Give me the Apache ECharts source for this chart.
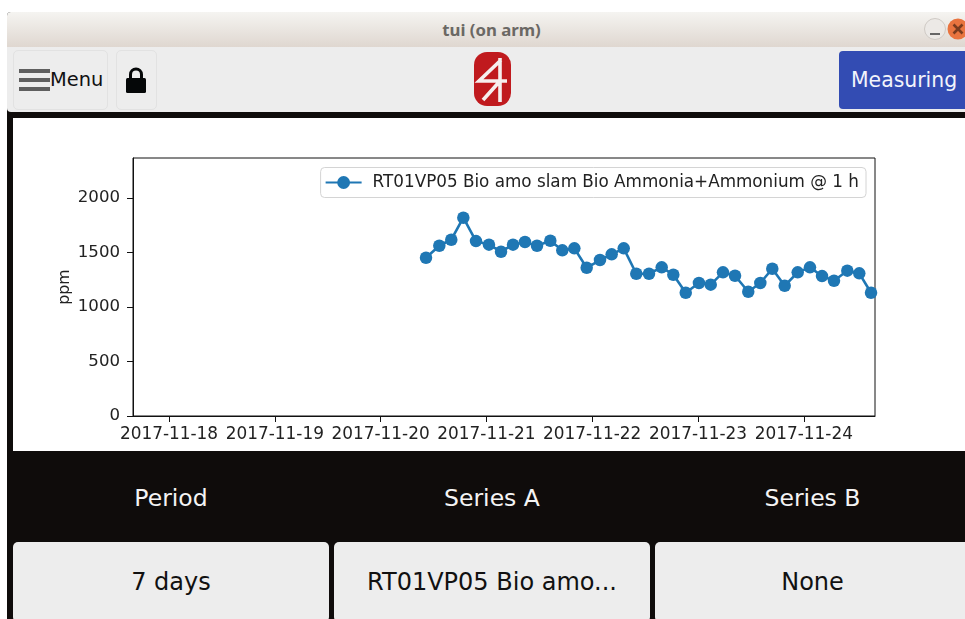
<!DOCTYPE html>
<html>
<head>
<meta charset="utf-8">
<title>tui (on arm)</title>
<script src="https://cdn.jsdelivr.net/npm/echarts@6/dist/echarts.min.js"></script>
<style>
  html, body { margin: 0; padding: 0; background: #fff; overflow: hidden; }
  body { width: 965px; height: 619px; position: relative; font-family: "DejaVu Sans", sans-serif; }
  .abs { position: absolute; box-sizing: border-box; }
  .window { left: 7px; top: 12px; width: 958px; height: 607px; background: #0f0c0b; border-radius: 4px 0 0 0; overflow: hidden; }
  .titlebar { left: 7px; top: 12px; width: 958px; height: 35px; border-radius: 4px 0 0 0;
    background: linear-gradient(#f5f4f1, #dfd7d0); text-align: center; padding-left: 11px;
    font: bold 16.8px/35px "Noto Sans", sans-serif; color: #6b6864; }
  .toolbar { left: 7px; top: 47px; width: 958px; height: 65px; background: #ededed; border-radius: 0 0 0 4px; }
  .btn { background: #ededed; border: 1px solid #e2e2e2; border-radius: 5px; }
  .menu { left: 13px; top: 50px; width: 95px; height: 60px; }
  .lock { left: 116px; top: 50px; width: 41px; height: 60px; }
  .bar { left: 19px; width: 31px; height: 4px; background: #5f5f5f; }
  .menutext { left: 50px; top: 67px; font-size: 19.4px; line-height: 26px; color: #111; }
  .measuring { left: 839px; top: 51px; width: 126px; height: 58px; background: #334cb3; border-radius: 4px 0 0 4px;
    color: #f2f4fb; font-size: 20.4px; line-height: 58px; padding-left: 12px; }
  #chart { left: 13px; top: 118px; width: 952px; height: 333px; background: #fff; }
  .head { top: 483px; height: 30px; color: #f4f4f4; font-size: 23.5px; line-height: 30px; text-align: center; }
  .pick { top: 542px; height: 80px; background: #ededed; border-radius: 5px; color: #111;
    font-size: 24px; line-height: 80px; text-align: center; }
</style>
</head>
<body>
<div class="abs window"></div>
<div class="abs titlebar">tui (on arm)</div>
<svg class="abs" style="left:922px;top:17px" width="43" height="24">
  <circle cx="13" cy="12" r="10.5" fill="#ece9e6" stroke="#cfcac5"/>
  <rect x="8" y="16" width="10" height="2" fill="#666"/>
  <circle cx="36" cy="12" r="10.5" fill="#e9743f"/>
  <path d="M31.5 7.5 L40.5 16.5 M40.5 7.5 L31.5 16.5" stroke="#7a3b1e" stroke-width="2.6"/>
</svg>
<div class="abs toolbar"></div>
<div class="abs btn menu"></div>
<div class="abs bar" style="top:69px"></div>
<div class="abs bar" style="top:78px"></div>
<div class="abs bar" style="top:87px"></div>
<div class="abs menutext">Menu</div>
<div class="abs btn lock"></div>
<svg class="abs" style="left:125px;top:66px" width="22" height="28">
  <path d="M5.5 13 V8.5 a5.5 5.5 0 0 1 11 0 V13" fill="none" stroke="#050708" stroke-width="3"/>
  <rect x="1" y="12" width="20" height="15" rx="1.5" fill="#050708"/>
</svg>
<svg class="abs" style="left:474px;top:52px" width="38" height="54">
  <rect x="0" y="0" width="37" height="54" rx="13" fill="#c01a1e"/>
  <path d="M26 6 V50 M27 8 L5 29 H33 M26 29 L9 48" fill="none" stroke="#f6eeee" stroke-width="3.6"/>
</svg>
<div class="abs measuring">Measuring</div>
<div class="abs" id="chart"></div>
<div class="abs head" style="left:13px;width:316px">Period</div>
<div class="abs head" style="left:334px;width:316px">Series A</div>
<div class="abs head" style="left:655px;width:315px">Series B</div>
<div class="abs pick" style="left:13px;width:316px">7 days</div>
<div class="abs pick" style="left:334px;width:316px">RT01VP05 Bio amo...</div>
<div class="abs pick" style="left:655px;width:315px">None</div>

<script>
// values
const seriesName = 'RT01VP05 Bio amo slam Bio Ammonia+Ammonium @ 1 h'
const times = [
  '2017-11-20T10:18', '2017-11-20T13:19', '2017-11-20T16:02', '2017-11-20T18:46', '2017-11-20T21:38',
  '2017-11-21T00:35', '2017-11-21T03:19', '2017-11-21T06:02', '2017-11-21T08:45', '2017-11-21T11:29',
  '2017-11-21T14:30', '2017-11-21T17:13', '2017-11-21T19:57', '2017-11-21T22:45',
  '2017-11-22T01:46', '2017-11-22T04:25', '2017-11-22T07:09', '2017-11-22T10:00', '2017-11-22T12:53',
  '2017-11-22T15:46', '2017-11-22T18:24', '2017-11-22T21:13',
  '2017-11-23T00:13', '2017-11-23T02:53', '2017-11-23T05:40', '2017-11-23T08:24', '2017-11-23T11:24',
  '2017-11-23T14:08', '2017-11-23T16:51', '2017-11-23T19:40', '2017-11-23T22:37',
  '2017-11-24T01:24', '2017-11-24T04:08', '2017-11-24T06:51', '2017-11-24T09:52', '2017-11-24T12:35',
  '2017-11-24T15:15'
]
const ppm = [
  1452, 1562, 1617, 1819, 1605,
  1572, 1507, 1572, 1596, 1562,
  1608, 1520, 1538, 1360,
  1431, 1483, 1538, 1305, 1305,
  1364, 1296, 1131,
  1220, 1205, 1318, 1287, 1140,
  1220, 1351, 1195, 1318,
  1364, 1284, 1241, 1333, 1309,
  1131
]
const dayTicks = ['2017-11-18', '2017-11-19', '2017-11-20', '2017-11-21', '2017-11-22', '2017-11-23', '2017-11-24']
const yTicks = [0, 500, 1000, 1500, 2000]
const xStart = '2017-11-17T15:50'
const xEnd = '2017-11-24T16:09'
const yMax = 2367

const ms = s => new Date(s).getTime()
const tickMs = dayTicks.map(d => ms(d + 'T00:00'))
const font = '"DejaVu Sans", sans-serif'

const chart = echarts.init(document.getElementById('chart'), null, { renderer: 'canvas' })
chart.setOption({
  animation: false,
  backgroundColor: '#fff',
  grid: { left: 120, right: 90, top: 40, bottom: 35, show: true, borderColor: '#111', borderWidth: 1 },
  legend: {
    data: [seriesName],
    top: 49.5,
    right: 99,
    itemWidth: 36,
    itemHeight: 16,
    itemGap: 8,
    padding: [6.5, 7, 6.5, 4],
    backgroundColor: '#fff',
    borderColor: '#d4d4d4',
    borderWidth: 1,
    borderRadius: 4,
    textStyle: { fontFamily: font, fontSize: 16.8, color: '#222', padding: [1, 0, 0, 6] }
  },
  // 时间轴配 customValues 会报错，这里用数值轴放时间戳
  xAxis: {
    type: 'value',
    min: ms(xStart),
    max: ms(xEnd),
    splitLine: { show: false },
    axisLine: { lineStyle: { color: '#111' } },
    axisTick: { length: 6, lineStyle: { color: '#111' }, customValues: tickMs },
    axisLabel: {
      customValues: tickMs,
      formatter: v => dayTicks[tickMs.indexOf(v)],
      fontFamily: font, fontSize: 16.9, color: '#222', margin: 10
    }
  },
  yAxis: {
    type: 'value',
    min: 0,
    max: yMax,
    name: 'ppm',
    nameLocation: 'middle',
    nameGap: 60,
    nameMoveOverlap: false,
    nameTextStyle: { fontFamily: font, fontSize: 15.8, color: '#222' },
    splitLine: { show: false },
    axisLine: { show: true, lineStyle: { color: '#111' } },
    axisTick: { show: true, length: 6, lineStyle: { color: '#111' }, customValues: yTicks },
    axisLabel: {
      customValues: yTicks,
      formatter: v => String(v),
      fontFamily: font, fontSize: 16.6, color: '#222', margin: 13, padding: [2, 0, 0, 0]
    }
  },
  series: [{
    name: seriesName,
    type: 'line',
    data: times.map((t, i) => [ms(t), ppm[i]]),
    clip: true,
    symbol: 'circle',
    symbolSize: 12.5,
    showAllSymbol: true,
    itemStyle: { color: '#1f77b4' },
    lineStyle: { color: '#1f77b4', width: 2.6 }
  }]
})
</script>
</body>
</html>
